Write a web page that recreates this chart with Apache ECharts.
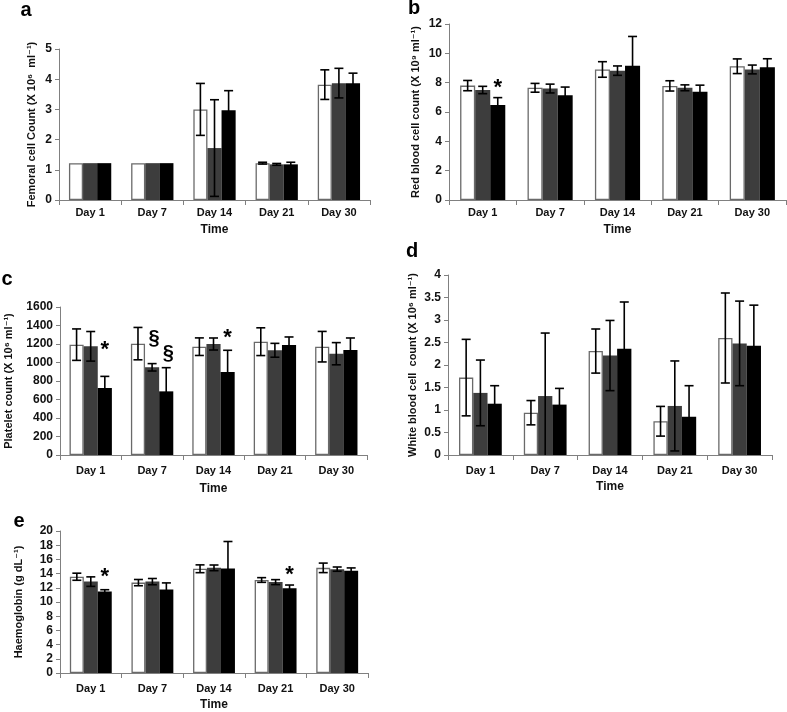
<!DOCTYPE html>
<html><head><meta charset="utf-8">
<script src="https://cdn.jsdelivr.net/npm/echarts@6/dist/echarts.min.js"></script>
<style>html,body{margin:0;padding:0;background:#fff}#c{width:787px;height:712px}</style>
</head><body><div id="c"></div>
<script>
const categories = ['Day 1', 'Day 7', 'Day 14', 'Day 21', 'Day 30'];

// a - Femoral cell count
const femoralWhite = [1.22, 1.22, 3.00, 1.22, 3.82];
const femoralGray  = [1.22, 1.22, 1.72, 1.18, 3.87];
const femoralBlack = [1.22, 1.22, 2.97, 1.18, 3.87];
const femoralErrWhite = [0, 0, 0.86, 0.03, 0.49];
const femoralErrGray  = [0, 0, 1.60, 0.03, 0.49];
const femoralErrBlack = [0, 0, 0.65, 0.07, 0.33];

// b - Red blood cell count
const rbcWhite = [7.80, 7.65, 8.90, 7.78, 9.12];
const rbcGray  = [7.50, 7.60, 8.82, 7.65, 8.90];
const rbcBlack = [6.48, 7.15, 9.15, 7.38, 9.05];
const rbcErrWhite = [0.35, 0.30, 0.53, 0.35, 0.50];
const rbcErrGray  = [0.25, 0.30, 0.32, 0.20, 0.30];
const rbcErrBlack = [0.50, 0.55, 2.00, 0.45, 0.58];

// c - Platelet count
const plateletWhite = [1193, 1204, 1171, 1225, 1171];
const plateletGray  = [1175, 948, 1200, 1132, 1095];
const plateletBlack = [724, 688, 897, 1189, 1135];
const plateletErrWhite = [170, 175, 95, 150, 165];
const plateletErrGray  = [160, 40, 65, 75, 120];
const plateletErrBlack = [126, 256, 235, 87, 130];

// d - White blood cell count
const wbcWhite = [1.72, 0.94, 2.31, 0.75, 2.60];
const wbcGray  = [1.38, 1.31, 2.21, 1.09, 2.48];
const wbcBlack = [1.14, 1.12, 2.36, 0.85, 2.43];
const wbcErrWhite = [0.85, 0.27, 0.49, 0.33, 1.00];
const wbcErrGray  = [0.73, 1.40, 0.78, 1.00, 0.94];
const wbcErrBlack = [0.40, 0.36, 1.04, 0.69, 0.90];

// e - Haemoglobin
const hbWhite = [13.56, 12.73, 14.68, 13.10, 14.81];
const hbGray  = [12.87, 12.87, 14.81, 12.80, 14.63];
const hbBlack = [11.48, 11.76, 14.72, 11.94, 14.40];
const hbErrWhite = [0.50, 0.44, 0.55, 0.33, 0.67];
const hbErrGray  = [0.67, 0.44, 0.40, 0.35, 0.30];
const hbErrBlack = [0.25, 0.93, 3.80, 0.45, 0.40];

// significance marks: [category index, value, bar index (0 white,1 gray,2 black), symbol]
const marksB = [[0, 7.85, 2, '*']];
const marksC = [[0, 1167, 2, '*'], [1, 1258, 1, '§'], [1, 1096, 2, '§'], [2, 1301, 2, '*']];
const marksE = [[0, 13.99, 2, '*'], [3, 14.2, 2, '*']];

// y-axis ranges / tick steps
const yMaxA = 5, yStepA = 1;
const yMaxB = 12, yStepB = 2;
const yMaxC = 1600, yStepC = 200;
const yMaxD = 4, yStepD = 0.5;
const yMaxE = 20, yStepE = 2;

const FONT = '"Liberation Sans", Arial, "DejaVu Sans", sans-serif';
const AXIS_COLOR = '#808080';

const panels = [
  { key: 'a', grid: {left: 59, top: 49, width: 311, height: 151}, yMax: yMaxA, yStep: yStepA,
    title: 'Femoral cell Count (X 10⁶  ml⁻¹)', nameGapY: 22, labelMargin: 7, nameGapX: 24, gap: 0.32,
    vals: [femoralWhite, femoralGray, femoralBlack], errs: [femoralErrWhite, femoralErrGray, femoralErrBlack], marks: [],
    letterPos: [26, 10] },
  { key: 'b', grid: {left: 449, top: 24, width: 337, height: 176}, yMax: yMaxB, yStep: yStepB,
    title: 'Red blood cell count (X 10⁹ ml⁻¹)', nameGapY: 28, labelMargin: 7, nameGapX: 24, gap: 0.33,
    vals: [rbcWhite, rbcGray, rbcBlack], errs: [rbcErrWhite, rbcErrGray, rbcErrBlack], marks: marksB,
    letterPos: [414, 8] },
  { key: 'c', grid: {left: 60, top: 307, width: 307, height: 148}, yMax: yMaxC, yStep: yStepC,
    title: 'Platelet count (X 10⁶ ml⁻¹)', nameGapY: 46, labelMargin: 10, nameGapX: 28, gap: 0.31,
    vals: [plateletWhite, plateletGray, plateletBlack], errs: [plateletErrWhite, plateletErrGray, plateletErrBlack], marks: marksC,
    letterPos: [7, 279] },
  { key: 'd', grid: {left: 448, top: 275, width: 324, height: 180}, yMax: yMaxD, yStep: yStepD,
    title: 'White blood cell  count (X 10⁶ ml⁻¹)', nameGapY: 30, labelMargin: 10, nameGapX: 26, gap: 0.34,
    vals: [wbcWhite, wbcGray, wbcBlack], errs: [wbcErrWhite, wbcErrGray, wbcErrBlack], marks: [],
    letterPos: [412, 251] },
  { key: 'e', grid: {left: 60, top: 531, width: 308, height: 144}, yMax: yMaxE, yStep: yStepE,
    title: 'Haemoglobin (g dL⁻¹)', nameGapY: 36, labelMargin: 10, nameGapX: 26, gap: 0.32,
    vals: [hbWhite, hbGray, hbBlack], errs: [hbErrWhite, hbErrGray, hbErrBlack], marks: marksE,
    letterPos: [19, 521] }
];

const barStyles = [
  {color: '#ffffff', borderColor: '#6a6a6a', borderWidth: 1.3},
  {color: '#3d3d3d', borderColor: '#3d3d3d', borderWidth: 0},
  {color: '#000000', borderColor: '#000000', borderWidth: 0}
];

function errRender(gapFrac) {
  return function (params, api) {
    const cat = api.value(0), idx = api.value(1), mean = api.value(2), err = api.value(3);
    if (!err) return;
    const bandW = api.size([1, 0])[0];
    const bw = bandW * (1 - gapFrac) / 3;
    const c = api.coord([cat, mean]);
    const x = c[0] + (idx - 1) * bw;
    const yTop = api.coord([cat, mean + err])[1];
    const yBot = api.coord([cat, Math.max(0, mean - err)])[1];
    const h = 4.5;
    const st = {stroke: '#000', lineWidth: 1.6};
    const children = [
      {type: 'line', shape: {x1: x, y1: yTop, x2: x, y2: yBot}, style: st},
      {type: 'line', shape: {x1: x - h, y1: yTop, x2: x + h, y2: yTop}, style: st}
    ];
    if (mean - err > 0) children.push({type: 'line', shape: {x1: x - h, y1: yBot, x2: x + h, y2: yBot}, style: st});
    return {type: 'group', children};
  };
}

function markRender(gapFrac, marks) {
  return function (params, api) {
    const m = marks[params.dataIndex];
    const cat = api.value(0), val = api.value(1), idx = api.value(2);
    const sym = m[3];
    const bandW = api.size([1, 0])[0];
    const bw = bandW * (1 - gapFrac) / 3;
    const c = api.coord([cat, val]);
    const isStar = sym === '*';
    return {
      type: 'text',
      style: {
        text: sym,
        x: c[0] + (idx - 1) * bw + (isStar ? 0 : 2),
        y: c[1] + (isStar ? 3 : 0),
        fill: '#000',
        font: 'bold ' + (isStar ? 22 : 20) + 'px ' + FONT,
        align: 'center',
        verticalAlign: 'middle'
      }
    };
  };
}

const grids = [], xAxes = [], yAxes = [], series = [], graphics = [];
panels.forEach((p, i) => {
  grids.push(p.grid);
  xAxes.push({
    type: 'category', gridIndex: i, data: categories,
    axisLine: {show: true, lineStyle: {color: AXIS_COLOR, width: 1}},
    axisTick: {show: true, length: 5, lineStyle: {color: AXIS_COLOR}},
    axisLabel: {color: '#111', fontWeight: 'bold', fontSize: 11, fontFamily: FONT, margin: p.labelMargin},
    name: 'Time', nameLocation: 'middle', nameGap: p.nameGapX,
    nameTextStyle: {color: '#111', fontWeight: 'bold', fontSize: 12, fontFamily: FONT}
  });
  yAxes.push({
    type: 'value', gridIndex: i, min: 0, max: p.yMax, interval: p.yStep,
    axisLine: {show: true, lineStyle: {color: AXIS_COLOR, width: 1}},
    axisTick: {show: true, length: 4, lineStyle: {color: AXIS_COLOR}},
    splitLine: {show: false},
    axisLabel: {color: '#111', fontWeight: 'bold', fontSize: 12, fontFamily: FONT, margin: 7,
      formatter: v => String(v)},
    name: p.title, nameLocation: 'middle', nameRotate: 90, nameGap: p.nameGapY,
    nameTextStyle: {color: '#111', fontWeight: 'bold', fontSize: 11, fontFamily: FONT}
  });
  p.vals.forEach((v, k) => {
    series.push({
      type: 'bar', xAxisIndex: i, yAxisIndex: i, data: v,
      barGap: '0%', barCategoryGap: (p.gap * 100) + '%',
      itemStyle: barStyles[k], silent: true, z: 2
    });
  });
  const errData = [];
  p.errs.forEach((e, k) => e.forEach((val, ci) => errData.push([ci, k, p.vals[k][ci], val])));
  series.push({
    type: 'custom', xAxisIndex: i, yAxisIndex: i, data: errData,
    encode: {x: 0, y: 2}, renderItem: errRender(p.gap), z: 5, clip: false, silent: true
  });
  if (p.marks.length) {
    series.push({
      type: 'custom', xAxisIndex: i, yAxisIndex: i,
      data: p.marks.map(m => [m[0], m[1], m[2]]),
      encode: {x: 0, y: 1}, renderItem: markRender(p.gap, p.marks), z: 6, clip: false, silent: true
    });
  }
  graphics.push({
    type: 'text', x: p.letterPos[0], y: p.letterPos[1],
    style: {text: p.key, font: 'bold 20px ' + FONT, fill: '#000', align: 'center', verticalAlign: 'middle'}
  });
});

const chart = echarts.init(document.getElementById('c'), null, {renderer: 'canvas'});
chart.setOption({
  animation: false,
  backgroundColor: '#ffffff',
  grid: grids, xAxis: xAxes, yAxis: yAxes, series: series,
  graphic: graphics
});
</script>
</body></html>
